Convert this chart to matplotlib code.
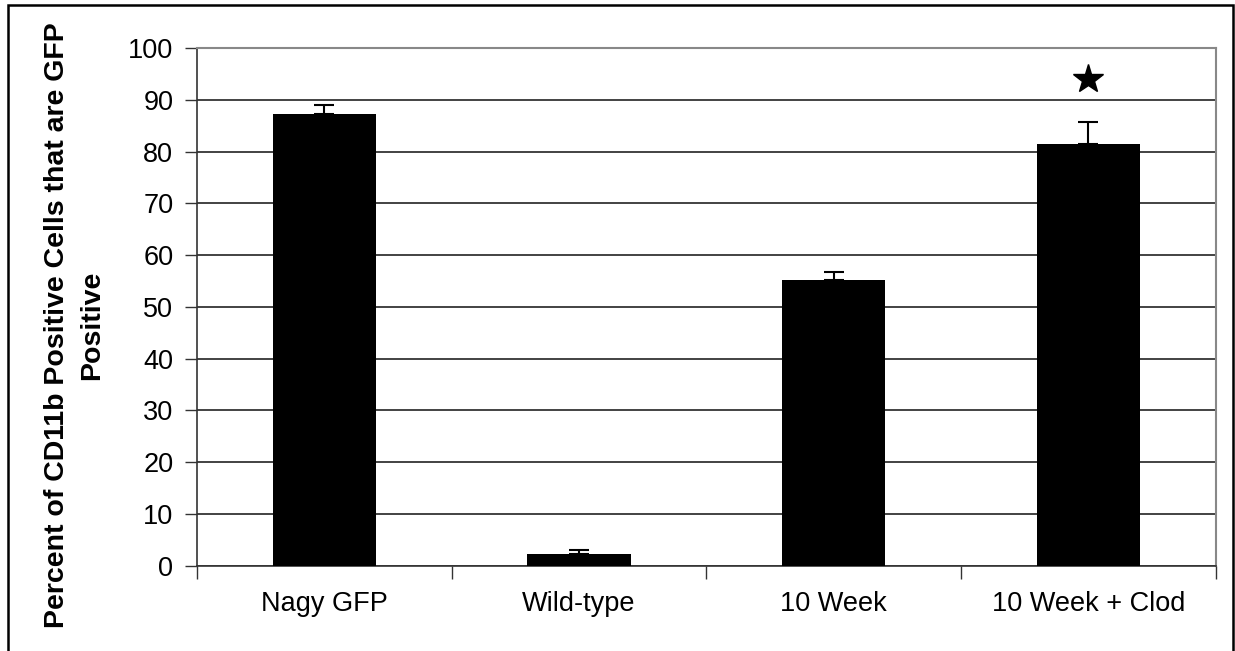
import matplotlib
matplotlib.use("Agg")
import matplotlib.pyplot as plt
from matplotlib.patches import Rectangle

plt.rcParams['font.family'] = ['Liberation Sans', 'DejaVu Sans']

groups = ["Nagy GFP", "Wild-type", "10 Week", "10 Week + Clod"]
percent_gfp = [87.3, 2.3, 55.2, 81.5]
error_up = [1.7, 0.8, 1.5, 4.2]
star_group = "10 Week + Clod"
star_value = 94.0
y_ticks = list(range(0, 101, 10))

fig = plt.figure(figsize=(12.35, 6.51), dpi=100)
ax = fig.add_axes([0.1595, 0.131, 0.825, 0.795])

x = list(range(len(groups)))
ax.bar(x, percent_gfp, width=0.405, color="black", zorder=3)
ax.errorbar(x, percent_gfp, yerr=[[0] * len(x), error_up], fmt="none",
            ecolor="black", elinewidth=1.5, capsize=7.5, capthick=1.5, zorder=4)
ax.plot([groups.index(star_group)], [star_value], marker="*", color="black",
        markersize=22, linestyle="none", zorder=5)

ax.set_xlim(-0.5, len(groups) - 0.5)
ax.set_ylim(0, 100)
ax.set_yticks(y_ticks)
ax.yaxis.grid(True, color="#222222", linewidth=1.2, zorder=0)
ax.set_axisbelow(True)

ax.set_xticks([i + 0.5 for i in range(-1, len(groups))], minor=False)
ax.set_xticklabels([])
ax.set_xticks(x, minor=True)
ax.set_xticklabels(groups, minor=True, fontsize=19.5)
ax.tick_params(axis="x", which="minor", length=0, pad=18)
ax.tick_params(axis="x", which="major", length=9, direction="out", width=1, color="#333333")
ax.tick_params(axis="y", length=9, direction="out", width=1, color="#333333", labelsize=19.5, pad=8)

for side in ["top", "right"]:
    ax.spines[side].set_color("#888888")
    ax.spines[side].set_linewidth(1.5)
for side in ["left", "bottom"]:
    ax.spines[side].set_color("#333333")
    ax.spines[side].set_linewidth(1.2)

# y-axis title placed in figure coordinates so it can run the full height
fig.text(75 / 1235, 1 - 325 / 651,
         "Percent of CD11b Positive Cells that are GFP\nPositive",
         rotation=90, ha="center", va="center", fontsize=20.5,
         fontweight="bold", linespacing=1.45, multialignment="center")

fig.patches.append(Rectangle((8 / 1235, -0.05), 1225 / 1235, 1.05 - 5 / 651,
                             transform=fig.transFigure, fill=False,
                             edgecolor="black", linewidth=1.8))

fig.savefig("out.png", dpi=100)
